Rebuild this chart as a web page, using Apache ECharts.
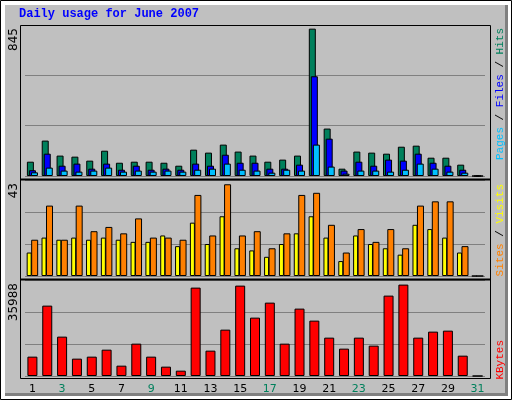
<!DOCTYPE html>
<html><head><meta charset="utf-8">
<script src="https://cdn.jsdelivr.net/npm/echarts@6/dist/echarts.min.js"></script>
<style>html,body{margin:0;padding:0;background:#fff}#c{width:512px;height:400px}</style>
</head><body><div id="c"></div>
<script>
const days = ['1','2','3','4','5','6','7','8','9','10','11','12','13','14','15','16','17','18','19','20','21','22','23','24','25','26','27','28','29','30','31'];
const weekend = ['2','3','9','10','16','17','23','24','30','31'];
const hits  = [82,203,117,111,88,145,76,82,82,76,59,151,134,180,140,117,82,94,117,845,272,42,140,134,128,168,174,105,105,65,0];
const files = [33,128,59,71,42,71,36,59,36,42,36,71,59,122,76,76,42,42,65,572,214,31,82,59,94,88,128,76,59,36,0];
const pages = [21,48,31,25,31,48,25,31,25,31,25,36,42,71,36,31,19,36,31,180,54,13,31,31,25,36,71,42,25,19,0];
const visits = [11,18,17,18,17,18,17,16,16,19,14,25,15,28,13,12,9,15,20,28,18,7,19,15,13,10,24,22,18,11,0];
const sites  = [17,33,17,33,21,23,20,27,18,18,17,38,19,43,19,21,13,20,38,39,24,11,22,16,22,13,33,35,35,14,0];
const kbytes = [7620,27710,15500,6830,7620,10370,4070,12740,7620,3680,2100,34800,9980,18250,35590,22980,28890,12740,26530,21800,15100,10770,15100,11950,31650,35988,15100,17470,17860,8010,0];
const maxLabels = ['845','43','35988'];

const chart = echarts.init(document.getElementById('c'));
const G = [{top:25,bottom:400-176},{top:180,bottom:400-276},{top:280,bottom:400-376}];
const grids = G.map(g=>({left:25,right:27,top:g.top,bottom:g.bottom}));
const xAxes = [0,1,2].map(i=>({type:'category',gridIndex:i,data:days,axisLine:{show:false},axisTick:{show:false},
  axisLabel:{show:i===2,margin:8,fontFamily:'DejaVu Sans',fontSize:11,
   color:(v)=>weekend.includes(v)?'#00805c':'#000'}}));
const ymax=[866,45,37800];
const yAxes = [0,1,2].map(i=>({type:'value',gridIndex:i,min:0,max:ymax[i],interval:ymax[i]/3,axisLabel:{show:false},
  axisLine:{show:false},axisTick:{show:false},splitLine:{show:true,lineStyle:{color:'#808080',width:1}}}));
const bs = {borderColor:'#000',borderWidth:1};
const series = [
 {type:'bar',xAxisIndex:0,yAxisIndex:0,data:hits,barWidth:7,barGap:'-71%',itemStyle:Object.assign({color:'#00805c'},bs)},
 {type:'bar',xAxisIndex:0,yAxisIndex:0,data:files,barWidth:7,barGap:'-71%',itemStyle:Object.assign({color:'#0000ff'},bs)},
 {type:'bar',xAxisIndex:0,yAxisIndex:0,data:pages,barWidth:7,barGap:'-71%',itemStyle:Object.assign({color:'#00c0ff'},bs)},
 {type:'bar',xAxisIndex:1,yAxisIndex:1,data:visits,barWidth:5,barGap:'-10%',itemStyle:Object.assign({color:'#ffff00'},bs)},
 {type:'bar',xAxisIndex:1,yAxisIndex:1,data:sites,barWidth:7,barGap:'-10%',itemStyle:Object.assign({color:'#ff8000'},bs)},
 {type:'bar',xAxisIndex:2,yAxisIndex:2,data:kbytes,barWidth:10,itemStyle:Object.assign({color:'#ff0000'},bs)}
];
const mono='Liberation Mono';
const graphic = [
 {type:'rect',z:-10,shape:{x:0,y:0,width:512,height:400},style:{fill:'#fff'}},
 {type:'rect',z:-10,shape:{x:0.5,y:0.5,width:511,height:399},style:{fill:'none',stroke:'#000',lineWidth:1}},
 {type:'rect',z:-9,shape:{x:5,y:5,width:503,height:391},style:{fill:'#808080'}},
 {type:'rect',z:-8,shape:{x:5,y:5,width:500,height:388},style:{fill:'#c0c0c0'}},
 {type:'rect',z:50,shape:{x:20.5,y:25.5,width:470,height:353},style:{fill:'none',stroke:'#000',lineWidth:1}},
 {type:'line',z:50,shape:{x1:20,y1:179.5,x2:491,y2:179.5},style:{stroke:'#000',lineWidth:2}},
 {type:'line',z:50,shape:{x1:20,y1:279.5,x2:491,y2:279.5},style:{stroke:'#000',lineWidth:2}},
 {type:'text',left:19,top:8,style:{text:'Daily usage for June 2007',fill:'#0000ff',font:'bold 12px "Liberation Mono"'}},
 {type:'text',x:8,y:28,rotation:Math.PI/2,style:{text:maxLabels[0],fill:'#000',font:'12px "DejaVu Sans"',align:'right',verticalAlign:'top'}},
 {type:'text',x:8,y:183,rotation:Math.PI/2,style:{text:maxLabels[1],fill:'#000',font:'12px "DejaVu Sans"',align:'right',verticalAlign:'top'}},
 {type:'text',x:8,y:283,rotation:Math.PI/2,style:{text:maxLabels[2],fill:'#000',font:'12px "DejaVu Sans"',align:'right',verticalAlign:'top'}},
 {type:'text',x:495,y:28,rotation:Math.PI/2,style:{text:'{p|Pages}{k| / }{f|Files}{k| / }{h|Hits}',align:'right',verticalAlign:'top',font:'11px "Liberation Mono"',
   rich:{p:{fill:'#00c0ff',font:'11px "Liberation Mono"'},f:{fill:'#0000ff',font:'11px "Liberation Mono"'},h:{fill:'#00805c',font:'11px "Liberation Mono"'},k:{fill:'#000',font:'11px "Liberation Mono"'}}}},
 {type:'text',x:495,y:184,rotation:Math.PI/2,style:{text:'{s|Sites}{k| / }{v|Visits}',align:'right',verticalAlign:'top',font:'11px "Liberation Mono"',
   rich:{s:{fill:'#ff8000',font:'11px "Liberation Mono"'},v:{fill:'#ffff00',font:'11px "Liberation Mono"'},k:{fill:'#000',font:'11px "Liberation Mono"'}}}},
 {type:'text',x:495,y:340,rotation:Math.PI/2,style:{text:'KBytes',fill:'#ff0000',align:'right',verticalAlign:'top',font:'11px "Liberation Mono"'}}
];
chart.setOption({animation:false,backgroundColor:'#c0c0c0',grid:grids,xAxis:xAxes,yAxis:yAxes,series,graphic});
</script></body></html>
